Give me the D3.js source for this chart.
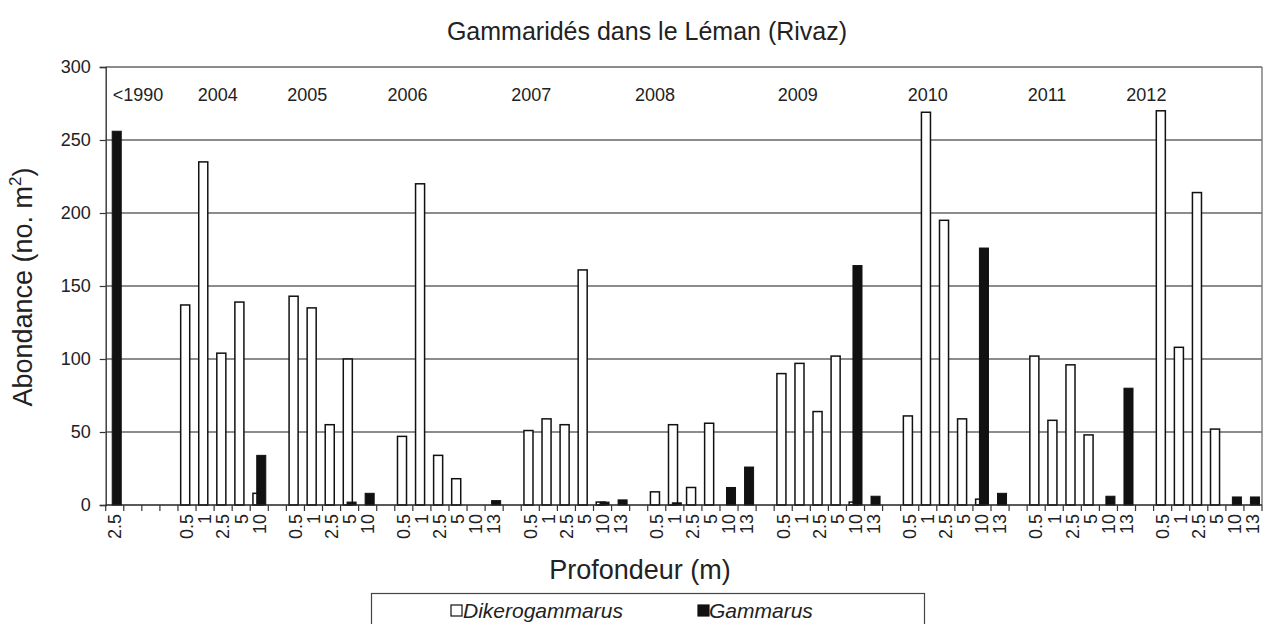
<!DOCTYPE html>
<html>
<head>
<meta charset="utf-8">
<script src="https://cdn.jsdelivr.net/npm/d3@7"></script>
<style>
  html, body { margin: 0; padding: 0; background: #fff; }
  svg { display: block; font-family: Arial, "Liberation Sans", sans-serif; }
</style>
</head>
<body>
<svg id="chart" width="1266" height="624"></svg>
<script>
// ---------- DATA ----------
const categories = [
  "2.5", "", "", "",
  "0.5", "1", "2.5", "5", "10", "",
  "0.5", "1", "2.5", "5", "10", "",
  "0.5", "1", "2.5", "5", "10", "13", "",
  "0.5", "1", "2.5", "5", "10", "13", "",
  "0.5", "1", "2.5", "5", "10", "13", "",
  "0.5", "1", "2.5", "5", "10", "13", "",
  "0.5", "1", "2.5", "5", "10", "13", "",
  "0.5", "1", "2.5", "5", "10", "13", "",
  "0.5", "1", "2.5", "5", "10", "13"
];
const dikerogammarus = [
  0, null, null, null,
  137, 235, 104, 139, 8, null,
  143, 135, 55, 100, 0, null,
  47, 220, 34, 18, 0, 0, null,
  51, 59, 55, 161, 2, 0, null,
  9, 55, 12, 56, 0, 0, null,
  90, 97, 64, 102, 2, 0, null,
  61, 269, 195, 59, 4, 0, null,
  102, 58, 96, 48, 0, 0, null,
  270, 108, 214, 52, 0, 0
];
const gammarus = [
  256, null, null, null,
  0, 0, 0, 0, 34, null,
  0, 0, 0, 2, 8, null,
  0, 0, 0, 0, 0, 3, null,
  0, 0, 0, 0, 2, 3.5, null,
  0, 1.5, 0, 0, 12, 26, null,
  0, 0, 0, 0, 164, 6, null,
  0, 0, 0, 0, 176, 8, null,
  0, 0, 0, 0, 6, 80, null,
  0, 0, 0, 0, 5.5, 5.5
];
const yearLabels = ["<1990", "2004", "2005", "2006", "2007", "2008", "2009", "2010", "2011", "2012"];
const yTicks = [0, 50, 100, 150, 200, 250, 300];
const seriesNames = ["Dikerogammarus", "Gammarus"];

// ---------- LAYOUT ----------
const svg = d3.select("#chart");
const pLeft = 105.7, pRight = 1262, pTop = 67, pBottom = 505;
// year label anchors, expressed in category units
const yearLabelPos = [1.79, 6.2, 11.15, 16.7, 23.55, 30.4, 38.3, 45.5, 52.1, 57.6];

const x = d3.scaleBand().domain(d3.range(categories.length)).range([pLeft, pRight]).padding(0);
const y = d3.scaleLinear().domain([0, 300]).range([pBottom, pTop]);
const bw = x.bandwidth();

// gridlines
svg.append("g").selectAll("line").data(yTicks.filter(d => d > 0)).join("line")
  .attr("x1", pLeft).attr("x2", pRight)
  .attr("y1", d => y(d)).attr("y2", d => y(d))
  .attr("stroke", "#666").attr("stroke-width", 1.4);

// plot frame (right side)
svg.append("line").attr("x1", pRight).attr("x2", pRight).attr("y1", pTop).attr("y2", pBottom)
  .attr("stroke", "#777").attr("stroke-width", 1.4);

// bars
const barW = bw * 0.5;
svg.append("g").selectAll("rect").data(dikerogammarus.map((v, i) => ({v, i})).filter(d => d.v))
  .join("rect")
  .attr("x", d => x(d.i) + bw * 0.15)
  .attr("width", barW)
  .attr("y", d => y(d.v))
  .attr("height", d => y(0) - y(d.v))
  .attr("fill", "#fff").attr("stroke", "#111").attr("stroke-width", 1.5);

svg.append("g").selectAll("rect").data(gammarus.map((v, i) => ({v, i})).filter(d => d.v))
  .join("rect")
  .attr("x", d => x(d.i) + bw * 0.36)
  .attr("width", barW)
  .attr("y", d => y(d.v))
  .attr("height", d => y(0) - y(d.v))
  .attr("fill", "#111").attr("stroke", "#111").attr("stroke-width", 1);

// y axis
const yAxis = svg.append("g").attr("transform", `translate(${pLeft},0)`)
  .call(d3.axisLeft(y).tickValues(yTicks).tickSize(6).tickPadding(9));
yAxis.select(".domain").attr("stroke", "#333").attr("stroke-width", 1.4);
yAxis.selectAll(".tick line").attr("stroke", "#333").attr("stroke-width", 1.2);
yAxis.selectAll("text").attr("font-size", 18).attr("fill", "#222");

// x axis line + ticks at category boundaries
svg.append("line").attr("x1", pLeft).attr("x2", pRight).attr("y1", pBottom).attr("y2", pBottom)
  .attr("stroke", "#222").attr("stroke-width", 1.4);
svg.append("g").selectAll("line").data(d3.range(categories.length + 1)).join("line")
  .attr("x1", i => pLeft + i * x.step()).attr("x2", i => pLeft + i * x.step())
  .attr("y1", pBottom).attr("y2", pBottom + 6)
  .attr("stroke", "#333").attr("stroke-width", 1.2);

// x tick labels (rotated)
svg.append("g").selectAll("text").data(categories.map((c, i) => ({c, i})).filter(d => d.c))
  .join("text")
  .attr("transform", d => `translate(${x(d.i) + bw / 2},${pBottom + 9}) rotate(-90)`)
  .attr("text-anchor", "end").attr("dy", "0.35em")
  .attr("font-size", 18).attr("fill", "#222")
  .text(d => d.c);

// year labels
svg.append("g").selectAll("text").data(yearLabels).join("text")
  .attr("x", (d, i) => pLeft + yearLabelPos[i] * x.step())
  .attr("y", 101)
  .attr("text-anchor", "middle").attr("font-size", 18).attr("fill", "#222")
  .text(d => d);

// title
svg.append("text").attr("x", 647).attr("y", 40).attr("text-anchor", "middle")
  .attr("font-size", 25).attr("fill", "#222").text("Gammaridés dans le Léman (Rivaz)");

// axis titles
svg.append("text").attr("x", 640).attr("y", 579).attr("text-anchor", "middle")
  .attr("font-size", 27).attr("fill", "#222").text("Profondeur (m)");
const yt = svg.append("text").attr("transform", "translate(32,287) rotate(-90)")
  .attr("text-anchor", "middle").attr("font-size", 27).attr("fill", "#222");
yt.append("tspan").text("Abondance (no. m");
yt.append("tspan").attr("font-size", 17).attr("dy", -11).text("2");
yt.append("tspan").attr("dy", 11).text(")");

// legend
const lg = svg.append("g");
lg.append("rect").attr("x", 371.5).attr("y", 593.5).attr("width", 553).attr("height", 45)
  .attr("fill", "#fff").attr("stroke", "#444").attr("stroke-width", 1.2);
const legendItems = [
  {name: seriesNames[0], fill: "#fff", sx: 451, tx: 463},
  {name: seriesNames[1], fill: "#111", sx: 698, tx: 709}
];
legendItems.forEach(it => {
  lg.append("rect").attr("x", it.sx).attr("y", 605).attr("width", 11).attr("height", 11)
    .attr("fill", it.fill).attr("stroke", "#111").attr("stroke-width", 1.2);
  lg.append("text").attr("x", it.tx).attr("y", 618).attr("font-size", 21)
    .attr("font-style", "italic").attr("fill", "#222").text(it.name);
});
</script>
</body>
</html>
